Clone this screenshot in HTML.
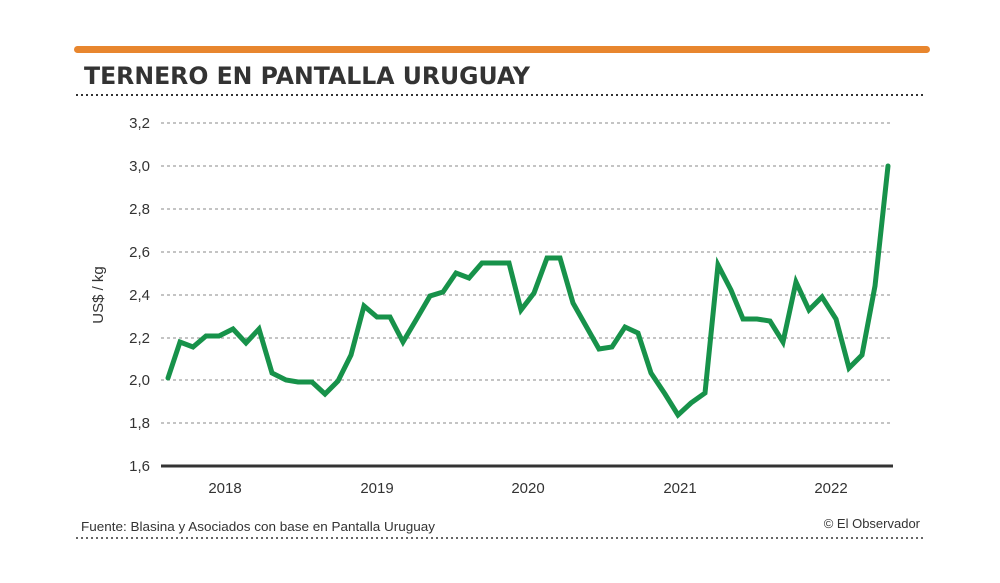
<!DOCTYPE html>
<html><head><meta charset="utf-8"><style>
body{margin:0;background:#fff}
svg{display:block}
text{font-family:"Liberation Sans Narrow","Liberation Sans",sans-serif;fill:#333}
</style></head><body>
<svg width="1000" height="583" viewBox="0 0 1000 583">
<rect x="74" y="46" width="856" height="7" rx="3.5" fill="#e8862e"/>
<text x="84" y="84" font-weight="bold" font-size="24" textLength="446" lengthAdjust="spacingAndGlyphs" fill="#2b2b2b" style="font-family:'DejaVu Sans','Liberation Sans',sans-serif">TERNERO EN PANTALLA URUGUAY</text>
<line x1="76" y1="95" x2="925" y2="95" stroke="#333" stroke-width="2" stroke-dasharray="2,3"/>
<g stroke="#888" stroke-width="1" stroke-dasharray="3,3">
<line x1="161" y1="123" x2="893" y2="123"/>
<line x1="161" y1="166" x2="893" y2="166"/>
<line x1="161" y1="209" x2="893" y2="209"/>
<line x1="161" y1="252" x2="893" y2="252"/>
<line x1="161" y1="295" x2="893" y2="295"/>
<line x1="161" y1="338" x2="893" y2="338"/>
<line x1="161" y1="380" x2="893" y2="380"/>
<line x1="161" y1="423" x2="893" y2="423"/>
</g>
<line x1="161" y1="466" x2="893" y2="466" stroke="#333" stroke-width="3"/>
<g font-size="15" text-anchor="end">
<text x="150" y="128">3,2</text>
<text x="150" y="171">3,0</text>
<text x="150" y="214">2,8</text>
<text x="150" y="257">2,6</text>
<text x="150" y="300">2,4</text>
<text x="150" y="343">2,2</text>
<text x="150" y="385">2,0</text>
<text x="150" y="428">1,8</text>
<text x="150" y="471">1,6</text>
</g>
<text transform="translate(103,295) rotate(-90)" font-size="15" text-anchor="middle">US$ / kg</text>
<g font-size="15" text-anchor="middle">
<text x="225" y="493">2018</text>
<text x="377" y="493">2019</text>
<text x="528" y="493">2020</text>
<text x="680" y="493">2021</text>
<text x="831" y="493">2022</text>
</g>
<polyline fill="none" stroke="#17924a" stroke-width="5" stroke-linejoin="miter" stroke-linecap="round" points="168,378 180,342 193,347 206,336 219,336 233,329 246,343 259,329 272,373 286,380 298,382 312,382 325,394 338,381 351,355 364,306 377,317 390,317 403,342 416,320 430,296 443,292 456,273 469,278 482,263 495,263 509,263 521,310 534,293 547,258 560,258 573,303 586,326 599,349 612,347 625,327 638,333 651,373 665,394 678,415 691,403 705,393 718,265 731,290 743,319 757,319 770,321 783,342 796,282 809,310 822,297 836,319 849,368 862,355 875,286 888,166"/>
<text x="81" y="531" font-size="13" textLength="354" lengthAdjust="spacingAndGlyphs">Fuente: Blasina y Asociados con base en Pantalla Uruguay</text>
<text x="920" y="528" font-size="13" text-anchor="end">© El Observador</text>
<line x1="76" y1="538" x2="925" y2="538" stroke="#333" stroke-width="1.5" stroke-dasharray="2,3"/>
</svg>
</body></html>
